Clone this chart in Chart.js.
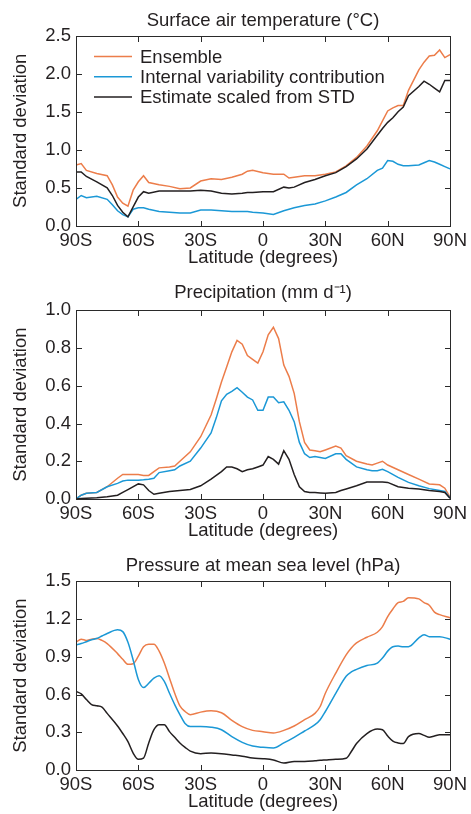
<!DOCTYPE html>
<html>
<head>
<meta charset="utf-8">
<script src="https://cdn.jsdelivr.net/npm/chart.js@4.4.1/dist/chart.umd.min.js"></script>
<style>
  body { margin: 0; background: #fff; }
  #wrap { position: relative; width: 471px; height: 814px; overflow: hidden; }
  canvas { position: absolute; left: 0; }
  .frame { position: absolute; box-sizing: border-box; border: 1px solid #2a2a2a; pointer-events: none; }
  .tick { position: absolute; background: #2a2a2a; pointer-events: none; }
</style>
</head>
<body>
<div id="wrap">
  <canvas id="c1" width="471" height="270" style="top:0px"></canvas>
  <canvas id="c2" width="471" height="273" style="top:270px"></canvas>
  <canvas id="c3" width="471" height="271" style="top:543px"></canvas>
</div>
<script>
// series names + axis labels
const seriesLabels = ['Ensemble', 'Internal variability contribution', 'Estimate scaled from STD'];
const xTickLabels = ['90S', '60S', '30S', '0', '30N', '60N', '90N'];

// Surface air temperature (°C)
const tempLat = [-90,-87.5,-85,-80,-75,-72.5,-70,-67.5,-65,-62.5,-60,-57.5,-55,-50,-45,-40,-35,-30,-25,-20,-15,-10,-7.5,-5,0,5,10,12.5,15,20,25,30,35,40,45,50,55,57.5,60,62.5,65,67.5,70,75,77.5,80,82.5,85,87.5,90];
const tempEnsemble = [0.80,0.82,0.73,0.69,0.66,0.54,0.38,0.30,0.26,0.47,0.58,0.66,0.57,0.54,0.52,0.49,0.50,0.59,0.62,0.61,0.64,0.68,0.72,0.73,0.70,0.68,0.68,0.63,0.64,0.66,0.66,0.68,0.71,0.79,0.90,1.05,1.25,1.38,1.51,1.55,1.58,1.58,1.78,2.05,2.15,2.23,2.24,2.31,2.21,2.25];
const tempInternal = [0.35,0.40,0.37,0.39,0.35,0.28,0.20,0.15,0.12,0.22,0.24,0.24,0.22,0.19,0.18,0.17,0.17,0.21,0.21,0.20,0.19,0.19,0.19,0.18,0.17,0.15,0.20,0.22,0.24,0.27,0.29,0.33,0.38,0.44,0.54,0.62,0.73,0.76,0.86,0.85,0.81,0.79,0.79,0.80,0.83,0.86,0.84,0.81,0.78,0.75];
const tempEstimate = [0.71,0.71,0.65,0.58,0.50,0.40,0.27,0.18,0.12,0.25,0.38,0.45,0.43,0.46,0.46,0.46,0.46,0.47,0.46,0.43,0.42,0.43,0.44,0.44,0.45,0.45,0.51,0.50,0.51,0.57,0.61,0.66,0.70,0.78,0.88,1.01,1.19,1.28,1.36,1.42,1.50,1.56,1.71,1.83,1.90,1.86,1.81,1.76,1.91,1.91];

// Precipitation (mm d-1)
const precipLat = [-90,-87.5,-85,-80,-75,-70,-67.5,-65,-60,-57.5,-55,-52.5,-50,-45,-42.5,-40,-35,-30,-25,-22.5,-20,-17.5,-15,-12.5,-10,-7.5,-5,-2.5,0,2.5,5,7.5,10,12.5,15,17.5,20,22.5,25,27.5,30,35,37.5,40,45,50,52.5,55,57.5,60,65,70,75,80,85,87.5,90];
const precipEnsemble = [0.0,0.02,0.03,0.035,0.065,0.11,0.13,0.13,0.13,0.125,0.125,0.145,0.165,0.17,0.175,0.20,0.25,0.33,0.445,0.53,0.62,0.70,0.78,0.84,0.82,0.76,0.74,0.72,0.78,0.87,0.91,0.85,0.71,0.65,0.56,0.41,0.30,0.26,0.256,0.25,0.26,0.28,0.27,0.23,0.20,0.185,0.18,0.19,0.20,0.18,0.155,0.13,0.105,0.08,0.075,0.057,0.01];
const precipInternal = [0.0,0.02,0.03,0.035,0.065,0.083,0.095,0.10,0.10,0.102,0.105,0.11,0.14,0.15,0.155,0.175,0.20,0.27,0.35,0.43,0.52,0.555,0.57,0.59,0.566,0.54,0.525,0.47,0.47,0.54,0.54,0.51,0.515,0.47,0.41,0.30,0.24,0.22,0.225,0.22,0.215,0.24,0.24,0.21,0.17,0.155,0.15,0.15,0.157,0.145,0.115,0.088,0.07,0.055,0.045,0.04,0.005];
const precipEstimate = [0.0,0.002,0.004,0.007,0.012,0.02,0.035,0.05,0.08,0.075,0.045,0.025,0.03,0.04,0.043,0.045,0.05,0.07,0.105,0.125,0.145,0.17,0.17,0.16,0.145,0.155,0.16,0.17,0.18,0.225,0.21,0.185,0.256,0.21,0.13,0.065,0.04,0.035,0.034,0.032,0.03,0.035,0.045,0.053,0.07,0.09,0.09,0.09,0.09,0.088,0.065,0.057,0.053,0.045,0.04,0.035,0.004];

// Pressure at mean sea level (hPa)
const pslLat = [-90,-87.5,-85,-82.5,-80,-77.5,-75,-70,-67.5,-65,-62.5,-60,-57.5,-55,-52.5,-50,-47.5,-45,-42.5,-40,-37.5,-35,-30,-25,-20,-15,-10,-5,0,5,10,15,20,25,27.5,30,35,40,42.5,45,50,55,57.5,60,62.5,65,67.5,70,75,77.5,80,82.5,85,90];
const pslEnsemble = [1.015,1.04,1.03,1.04,1.045,1.03,1.005,0.925,0.88,0.84,0.845,0.905,0.98,1.00,1.00,0.945,0.85,0.73,0.61,0.51,0.465,0.44,0.46,0.47,0.455,0.395,0.345,0.315,0.305,0.295,0.315,0.35,0.40,0.45,0.505,0.61,0.77,0.915,0.97,1.01,1.055,1.095,1.14,1.22,1.28,1.33,1.34,1.37,1.36,1.33,1.31,1.255,1.235,1.21];
const pslInternal = [0.995,1.005,1.02,1.035,1.045,1.065,1.085,1.115,1.10,1.015,0.875,0.72,0.655,0.69,0.73,0.75,0.705,0.61,0.52,0.44,0.37,0.345,0.345,0.34,0.32,0.265,0.22,0.19,0.18,0.175,0.215,0.26,0.31,0.36,0.40,0.465,0.61,0.745,0.78,0.80,0.83,0.85,0.89,0.945,0.98,0.985,0.98,0.98,1.05,1.075,1.06,1.06,1.06,1.04];
const pslEstimate = [0.625,0.605,0.56,0.52,0.51,0.50,0.45,0.35,0.29,0.225,0.135,0.085,0.095,0.215,0.32,0.36,0.36,0.305,0.26,0.215,0.18,0.15,0.13,0.135,0.13,0.12,0.11,0.095,0.09,0.08,0.055,0.068,0.068,0.073,0.077,0.08,0.086,0.094,0.147,0.21,0.29,0.325,0.32,0.27,0.23,0.215,0.21,0.265,0.29,0.275,0.26,0.27,0.28,0.28];

const lineColors = ['#ec7d4a', '#1b98d6', '#231f20'];
const textColor = '#231f20';
const fontFamily = '"Liberation Sans", Arial, Helvetica, sans-serif';
const fontSize = 18.5;

Chart.defaults.font.family = fontFamily;
Chart.defaults.font.size = fontSize;
Chart.defaults.color = textColor;

function zip(xs, ys) {
  return xs.map(function (x, i) { return { x: x, y: ys[i] }; });
}

// legend drawn inside the first panel, in the original series order
const insideLegend = {
  id: 'insideLegend',
  afterDraw(chart, args, opts) {
    if (!opts || !opts.show) return;
    const c = chart.ctx;
    const a = chart.chartArea;
    c.save();
    c.font = fontSize + 'px ' + fontFamily;
    c.textBaseline = 'middle';
    seriesLabels.forEach(function (label, i) {
      const y = a.top + 21 + i * 20.3;
      c.strokeStyle = lineColors[i];
      c.lineWidth = 1.5;
      c.beginPath();
      c.moveTo(a.left + 18, y);
      c.lineTo(a.left + 56, y);
      c.stroke();
      c.fillStyle = textColor;
      c.fillText(label, a.left + 64, y + 1);
    });
    c.restore();
  }
};

// box round the plot + short inward ticks, placed from the chart's own scales
function addFrame(chart, canvasTop) {
  const wrap = document.getElementById('wrap');
  const a = chart.chartArea;
  const xs = chart.scales.x, ys = chart.scales.y;
  const len = 6;
  const left = Math.round(a.left), right = Math.round(a.right);
  const top = Math.round(canvasTop + a.top), bottom = Math.round(canvasTop + a.bottom);

  const box = document.createElement('div');
  box.className = 'frame';
  box.style.left = left + 'px';
  box.style.top = top + 'px';
  box.style.width = (right - left + 1) + 'px';
  box.style.height = (bottom - top + 1) + 'px';
  wrap.appendChild(box);

  function tick(x, y, w, h) {
    const d = document.createElement('div');
    d.className = 'tick';
    d.style.left = x + 'px';
    d.style.top = y + 'px';
    d.style.width = w + 'px';
    d.style.height = h + 'px';
    wrap.appendChild(d);
  }
  xs.ticks.forEach(function (t) {
    if (t.value <= xs.min || t.value >= xs.max) return;
    const px = Math.round(xs.getPixelForValue(t.value));
    tick(px, bottom - len + 1, 1, len);
    tick(px, top, 1, len);
  });
  ys.ticks.forEach(function (t) {
    if (t.value <= ys.min + 1e-9 || t.value >= ys.max - 1e-9) return;
    const py = Math.round(canvasTop + ys.getPixelForValue(t.value));
    tick(left, py, len, 1);
    tick(right - len + 1, py, len, 1);
  });
}

function makeChart(id, canvasTop, title, titleTop, plotTop, lat, series, yMax, yStep, smooth, legend) {
  const ctx = document.getElementById(id).getContext('2d');
  const datasets = series.map(function (vals, i) {
    return {
      label: seriesLabels[i],
      data: zip(lat, vals),
      borderColor: lineColors[i],
      borderWidth: 1.5,
      pointRadius: 0,
      fill: false,
      xAxisID: 'x',
      yAxisID: 'y',
      tension: smooth ? 0.4 : 0,
      cubicInterpolationMode: smooth ? 'monotone' : 'default'
    };
  });
  const chart = new Chart(ctx, {
    type: 'line',
    // reversed so the orange line is drawn on top
    data: { datasets: datasets.reverse() },
    options: {
      responsive: false,
      devicePixelRatio: 1,
      animation: false,
      layout: { padding: { left: 0, right: 18, top: 0, bottom: 0 } },
      plugins: {
        legend: { display: false },
        tooltip: { enabled: false },
        insideLegend: { show: legend }
      },
      scales: {
        x: {
          type: 'linear',
          position: 'bottom',
          min: -90,
          max: 90,
          afterFit: function (s) { s.height = 44; },
          grid: { display: false, drawTicks: false },
          border: { display: false },
          ticks: {
            stepSize: 30,
            autoSkip: false,
            maxRotation: 0,
            padding: 4,
            color: textColor,
            callback: function (v) { return xTickLabels[Math.round((v + 90) / 30)]; }
          },
          title: { display: true, text: 'Latitude (degrees)', color: textColor, padding: { top: 0, bottom: 1 } }
        },
        // empty top axis: only carries the panel title, centred over the plot
        xTop: {
          type: 'linear',
          position: 'top',
          min: -90,
          max: 90,
          afterFit: function (s) { s.height = plotTop; },
          grid: { display: false, drawTicks: false },
          border: { display: false },
          ticks: { display: false },
          title: { display: true, text: title, color: textColor, padding: { top: titleTop, bottom: 0 } }
        },
        y: {
          position: 'left',
          min: 0,
          max: yMax,
          afterFit: function (s) { s.width = 76; },
          grid: { display: false, drawTicks: false },
          border: { display: false },
          ticks: {
            stepSize: yStep,
            padding: 5,
            color: textColor,
            callback: function (v) { return v.toFixed(1); }
          },
          title: { display: true, text: 'Standard deviation', color: textColor, padding: { top: 10, bottom: 0 } }
        }
      }
    },
    plugins: [insideLegend]
  });
  addFrame(chart, canvasTop);
  return chart;
}

makeChart('c1', 0, 'Surface air temperature (°C)', 10, 35.5,
  tempLat, [tempEnsemble, tempInternal, tempEstimate], 2.5, 0.5, false, true);
makeChart('c2', 270, 'Precipitation (mm d⁻¹)', 12, 40.3,
  precipLat, [precipEnsemble, precipInternal, precipEstimate], 1.0, 0.2, false, false);
makeChart('c3', 543, 'Pressure at mean sea level (hPa)', 12, 38.3,
  pslLat, [pslEnsemble, pslInternal, pslEstimate], 1.5, 0.3, true, false);
</script>
</body>
</html>
